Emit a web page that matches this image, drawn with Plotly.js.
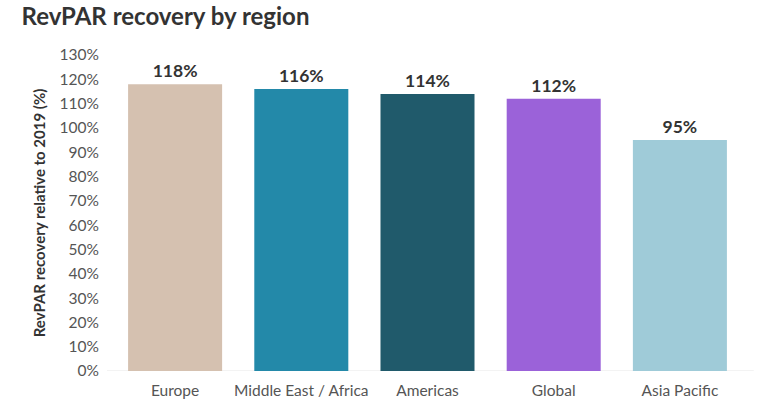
<!DOCTYPE html>
<html><head><meta charset="utf-8">
<script src="https://cdn.plot.ly/plotly-3.0.1.min.js"></script>
<style>html,body{margin:0;padding:0;background:#fff}#chart{width:768px;height:406px}</style>
</head><body><div id="chart"></div>
<script>
const regions = ["Europe", "Middle East / Africa", "Americas", "Global", "Asia Pacific"];
const recovery = [118, 116, 114, 112, 95];
const barColors = ["#d5c1b0", "#2389a9", "#205a6b", "#9b62d9", "#9fcbd8"];
const yTicks = [0,10,20,30,40,50,60,70,80,90,100,110,120,130];

const trace = {
  type: "bar",
  x: regions,
  y: recovery,
  marker: {color: barColors},
  text: recovery.map(v => v + "%"),
  textposition: "outside",
  textfont: {family: "Lato, 'Open Sans', sans-serif", size: 17.5, color: "#333333", weight: "bold"},
  cliponaxis: false,
  hoverinfo: "x+y"
};

const layout = {
  width: 768, height: 406,
  margin: {l: 112, r: 25, t: 55, b: 35},
  paper_bgcolor: "#ffffff", plot_bgcolor: "#ffffff",
  font: {family: "Lato, 'Open Sans', sans-serif", color: "#555555"},
  title: {text: "<b>RevPAR recovery by region</b>", x: 0.028, xanchor: "left", y: 0.958, yanchor: "middle",
          font: {family: "Lato, 'Open Sans', sans-serif", size: 24, color: "#333333"}},
  bargap: 0.255,
  showlegend: false,
  xaxis: {
    tickfont: {size: 15.5, color: "#555555"},
    showgrid: false, showline: false, zeroline: false, ticks: "", fixedrange: true,
    ticklabelstandoff: 8
  },
  yaxis: {
    range: [0, 130],
    tickvals: yTicks,
    ticktext: yTicks.map(v => v + "%"),
    tickfont: {size: 15.5, color: "#555555"},
    showgrid: false, zeroline: false, showline: false, ticks: "",
    ticklabelstandoff: 12,
    title: {text: "<b>RevPAR recovery relative to 2019 (%)</b>", standoff: 10,
            font: {size: 15, color: "#333333"}},
    fixedrange: true
  },
  shapes: [{type: "line", xref: "paper", yref: "y", x0: -0.008, x1: 1.017, y0: 0, y1: 0,
            line: {color: "#e6e6e6", width: 1}, layer: "below"}]
};

Plotly.newPlot("chart", [trace], layout, {displayModeBar: false, responsive: false});
</script>
</body></html>
